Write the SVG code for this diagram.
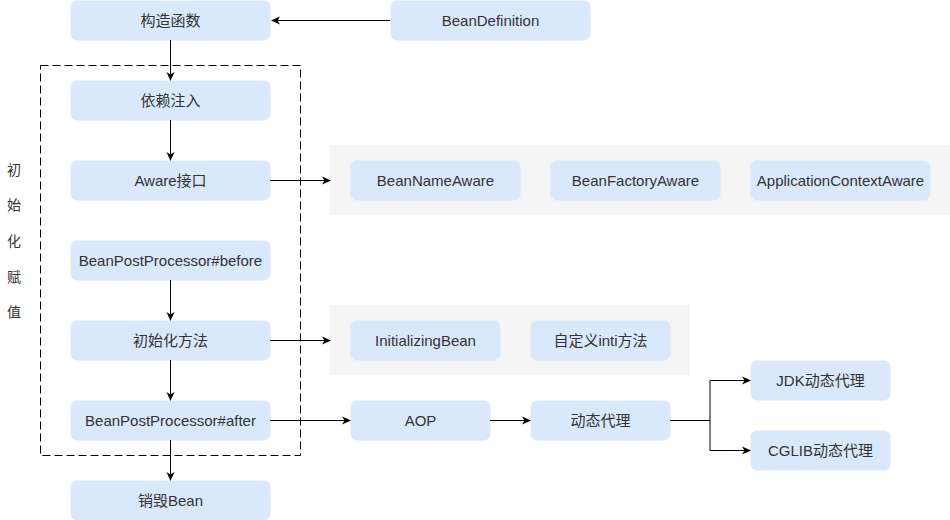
<svg xmlns="http://www.w3.org/2000/svg" width="950" height="520" viewBox="0 0 950 520">
<style>
.n{fill:#dae8fc;stroke:#dae8fc;stroke-width:1}
.p{fill:#f5f5f5;stroke:none}
.t{font-family:"Liberation Sans","Noto Sans CJK SC",sans-serif;font-size:15px;fill:#333333;text-anchor:middle;dominant-baseline:central}
.v{font-family:"Liberation Sans","Noto Sans CJK SC",sans-serif;font-size:14px;fill:#333333;text-anchor:middle;dominant-baseline:central}
.e{fill:none;stroke:#000;stroke-width:1}
</style>
<defs>
<marker id="a" markerWidth="10" markerHeight="10" refX="8" refY="5" orient="auto" markerUnits="userSpaceOnUse">
<path d="M0,1 L9,5 L0,9 L2.5,5 Z" fill="#000"/>
</marker>
</defs>
<rect width="950" height="520" fill="#fff"/>
<g id="panels">
<rect class="p" x="330" y="145" width="620" height="70"/>
<rect class="p" x="330" y="305" width="360" height="70"/>
</g>
<g id="group-init">
<rect x="40.5" y="65.5" width="260" height="390" fill="none" stroke="#000" stroke-dasharray="8,4"/>
<text class="v" x="14" y="170">初</text>
<text class="v" x="14" y="205">始</text>
<text class="v" x="14" y="241">化</text>
<text class="v" x="14" y="277">赋</text>
<text class="v" x="14" y="312">值</text>
</g>
<g id="constructor"><rect class="n" x="71" y="1" width="199" height="39" rx="6"/><text class="t" x="170.5" y="20.5">构造函数</text></g>
<g id="beandefinition"><rect class="n" x="391" y="1" width="199" height="39" rx="6"/><text class="t" x="490.5" y="20.5">BeanDefinition</text></g>
<g id="di"><rect class="n" x="71" y="81" width="199" height="39" rx="6"/><text class="t" x="170.5" y="100.5">依赖注入</text></g>
<g id="aware"><rect class="n" x="71" y="161" width="199" height="39" rx="6"/><text class="t" x="170.5" y="180.5">Aware接口</text></g>
<g id="bpp-before"><rect class="n" x="71" y="241" width="199" height="39" rx="6"/><text class="t" x="170.5" y="260.5">BeanPostProcessor#before</text></g>
<g id="init-method"><rect class="n" x="71" y="321" width="199" height="39" rx="6"/><text class="t" x="170.5" y="340.5">初始化方法</text></g>
<g id="bpp-after"><rect class="n" x="71" y="401" width="199" height="39" rx="6"/><text class="t" x="170.5" y="420.5">BeanPostProcessor#after</text></g>
<g id="destroy"><rect class="n" x="71" y="481" width="199" height="39" rx="6"/><text class="t" x="170.5" y="500.5">销毁Bean</text></g>
<g id="beannameaware"><rect class="n" x="351" y="161" width="169" height="39" rx="6"/><text class="t" x="435.5" y="180.5">BeanNameAware</text></g>
<g id="beanfactoryaware"><rect class="n" x="551" y="161" width="169" height="39" rx="6"/><text class="t" x="635.5" y="180.5">BeanFactoryAware</text></g>
<g id="appctxaware"><rect class="n" x="751" y="161" width="179" height="39" rx="6"/><text class="t" x="840.5" y="180.5">ApplicationContextAware</text></g>
<g id="initializingbean"><rect class="n" x="351" y="321" width="149" height="39" rx="6"/><text class="t" x="425.5" y="340.5">InitializingBean</text></g>
<g id="custom-init"><rect class="n" x="531" y="321" width="139" height="39" rx="6"/><text class="t" x="600.5" y="340.5">自定义inti方法</text></g>
<g id="aop"><rect class="n" x="351" y="401" width="139" height="39" rx="6"/><text class="t" x="420.5" y="420.5">AOP</text></g>
<g id="proxy"><rect class="n" x="531" y="401" width="139" height="39" rx="6"/><text class="t" x="600.5" y="420.5">动态代理</text></g>
<g id="jdk"><rect class="n" x="751" y="361" width="139" height="39" rx="6"/><text class="t" x="820.5" y="380.5">JDK动态代理</text></g>
<g id="cglib"><rect class="n" x="751" y="431" width="139" height="39" rx="6"/><text class="t" x="820.5" y="450.5">CGLIB动态代理</text></g>
<g id="connectors">
<path class="e" d="M390,20.5 H272" marker-end="url(#a)"/>
<path class="e" d="M170.5,40 V80" marker-end="url(#a)"/>
<path class="e" d="M170.5,120 V160" marker-end="url(#a)"/>
<path class="e" d="M170.5,280 V320" marker-end="url(#a)"/>
<path class="e" d="M170.5,360 V400" marker-end="url(#a)"/>
<path class="e" d="M170.5,440 V480" marker-end="url(#a)"/>
<path class="e" d="M270,180.5 H330" marker-end="url(#a)"/>
<path class="e" d="M270,340.5 H330" marker-end="url(#a)"/>
<path class="e" d="M270,420.5 H350" marker-end="url(#a)"/>
<path class="e" d="M490,420.5 H530" marker-end="url(#a)"/>
<path class="e" d="M670,420.5 H710 V380.5 H750" marker-end="url(#a)"/>
<path class="e" d="M710,420.5 V450.5 H750" marker-end="url(#a)"/>
</g>
</svg>
